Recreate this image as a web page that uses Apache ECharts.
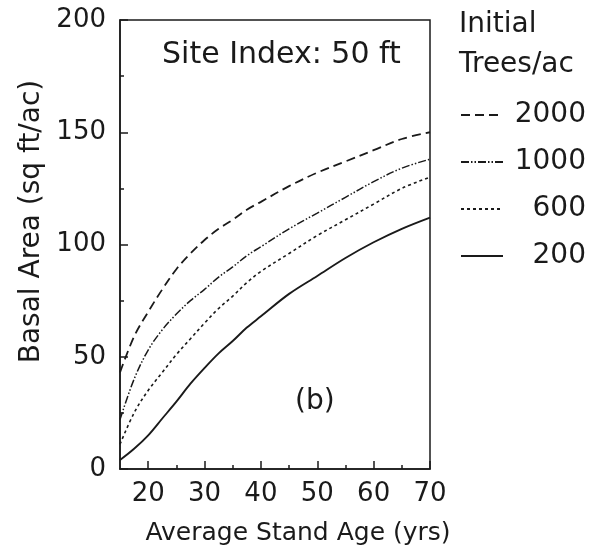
<!DOCTYPE html>
<html>
<head>
<meta charset="utf-8">
<script src="https://cdn.jsdelivr.net/npm/echarts@6/dist/echarts.min.js"></script>
<style>html,body{margin:0;padding:0;background:#fff}#c{width:590px;height:560px}</style>
</head>
<body>
<div id="c"></div>
<script>
// Data
const ages   = [15, 17.5, 20, 22.5, 25, 27.5, 30, 32.5, 35, 37.5, 40, 45, 50, 55, 60, 65, 70];
const ba2000 = [43, 59, 70, 80, 89, 96, 102, 107, 111, 115.5, 119, 126, 132, 137, 142, 147, 150];
const ba1000 = [22, 40, 53, 62, 69, 75, 80, 85.5, 90, 95, 99, 107, 114, 121, 128, 134, 138];
const ba600  = [11, 25, 35, 43, 51, 58, 65, 71.5, 77, 83, 88, 96, 104, 111, 118, 125, 130];
const ba200  = [4, 9, 15, 22.5, 30, 38, 45, 51.5, 57, 63, 68, 78, 86, 94, 101, 107, 112];
const seriesNames = ['2000', '1000', '600', '200'];
const xMajorTicks = [20, 30, 40, 50, 60, 70];
const xMinorTicks = [25, 35, 45, 55, 65];
const yTicks = [0, 50, 100, 150, 200];
const titleText = 'Site Index: 50 ft';
const legendHeader = 'Initial\nTrees/ac';
const panelLabel = '(b)';
const xName = 'Average Stand Age (yrs)';
const yName = 'Basal Area (sq ft/ac)';

const FONT = 'DejaVu Sans';
const INK = '#1a1a1a';
const pair = (ys) => ages.map((a, i) => [a, ys[i]]);

const dashes = [[9, 5], [8, 2, 1.5, 2, 1.5, 2], [3, 3], 'solid'];
const widths = [1.8, 1.5, 1.6, 1.9];
const allData = [ba2000, ba1000, ba600, ba200];

const chart = echarts.init(document.getElementById('c'), null, {renderer: 'canvas'});
chart.setOption({
  animation: false,
  backgroundColor: '#fff',
  textStyle: {fontFamily: FONT, color: INK},
  grid: {left: 120, right: 160, top: 20, bottom: 91, show: true, borderColor: INK, borderWidth: 1.5},
  title: [
    {text: titleText, left: 157, top: 35, textStyle: {fontFamily: FONT, fontSize: 30, fontWeight: 'normal', color: INK}},
    {text: legendHeader, left: 454, top: 0, textStyle: {fontFamily: FONT, fontSize: 28, fontWeight: 'normal', color: INK, lineHeight: 40}},
    {text: panelLabel, left: 290, top: 383, textStyle: {fontFamily: FONT, fontSize: 28, fontWeight: 'normal', color: INK}}
  ],
  legend: {
    orient: 'vertical', left: 455, top: 96,
    itemWidth: 42, itemHeight: 14, itemGap: 19,
    data: seriesNames,
    itemStyle: {opacity: 0, borderWidth: 0},
    formatter: '{n|{name}}',
    textStyle: {fontFamily: FONT, fontSize: 28, color: INK,
      rich: {n: {fontFamily: FONT, fontSize: 28, color: INK, width: 78, align: 'right', lineHeight: 30}}}
  },
  xAxis: [
    {type: 'value', min: 15, max: 70, interval: 5,
     name: xName, nameLocation: 'middle', nameGap: 52,
     nameTextStyle: {fontFamily: FONT, fontSize: 25, color: INK, padding: [0, 0, 0, 46]},
     axisLine: {show: true, lineStyle: {color: INK, width: 1.5}},
     axisTick: {show: true, inside: true, length: 8, customValues: xMajorTicks, lineStyle: {color: INK, width: 1.5}},
     axisLabel: {customValues: xMajorTicks, fontFamily: FONT, fontSize: 26, color: INK, margin: 12},
     splitLine: {show: false}},
    {type: 'value', min: 15, max: 70, interval: 5, position: 'bottom',
     axisLine: {show: false},
     axisTick: {show: true, inside: true, length: 4, customValues: xMinorTicks, lineStyle: {color: INK, width: 1.5}},
     axisLabel: {show: false},
     splitLine: {show: false}}
  ],
  yAxis: {
    type: 'value', min: 0, max: 200, interval: 50,
    name: yName, nameLocation: 'middle', nameGap: 74, nameRotate: 90,
    nameTextStyle: {fontFamily: FONT, fontSize: 28, color: INK, padding: [0, 0, 0, 46]},
    axisLine: {show: true, lineStyle: {color: INK, width: 1.5}},
    axisTick: {show: true, inside: true, length: 8, lineStyle: {color: INK, width: 1.5}},
    minorTick: {show: true, splitNumber: 2, length: 4, lineStyle: {color: INK, width: 1.5}},
    axisLabel: {customValues: yTicks, fontFamily: FONT, fontSize: 26, color: INK, margin: 14, align: 'right'},
    splitLine: {show: false}, minorSplitLine: {show: false}
  },
  series: seriesNames.map((n, i) => ({
    name: n, type: 'line', xAxisIndex: 0, data: pair(allData[i]),
    showSymbol: false, symbol: 'none', smooth: 0.35,
    lineStyle: {color: INK, width: widths[i], type: dashes[i]},
    itemStyle: {color: INK}
  }))
});
</script>
</body>
</html>
